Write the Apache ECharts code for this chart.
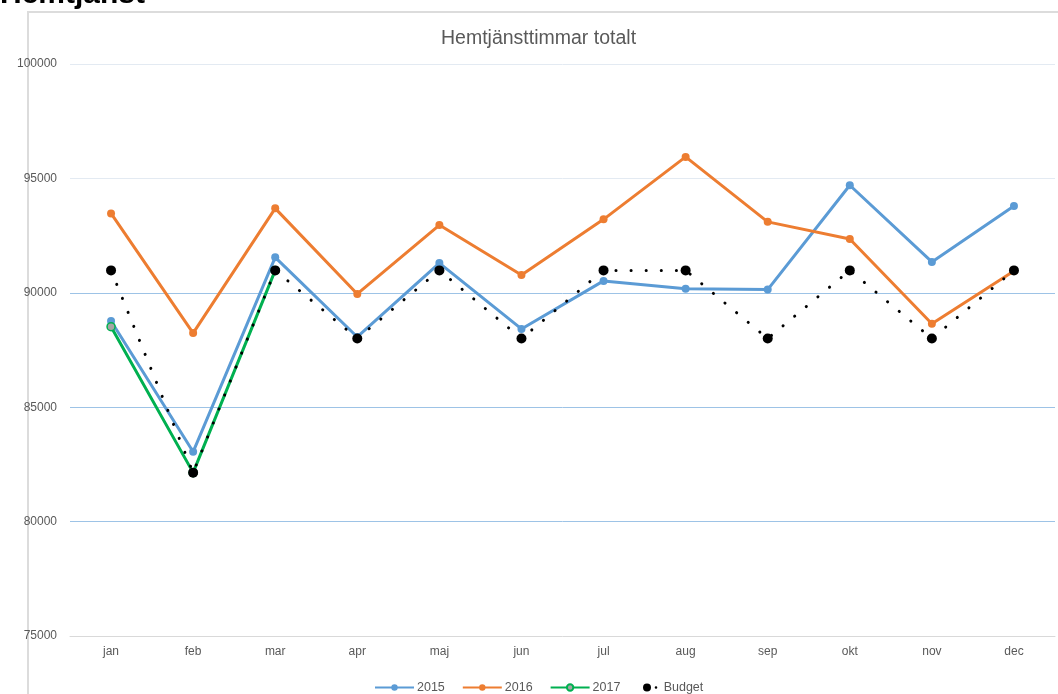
<!DOCTYPE html>
<html>
<head>
<meta charset="utf-8">
<script src="https://cdn.jsdelivr.net/npm/echarts@6/dist/echarts.min.js"></script>
<style>
html,body{margin:0;padding:0;background:#fff;}
#c{width:1058px;height:694px;}
</style>
</head>
<body>
<div id="c"></div>
<script>
const months = ['jan','feb','mar','apr','maj','jun','jul','aug','sep','okt','nov','dec'];
const s2015 = [88770, 83050, 91550, 88070, 91300, 88420, 90520, 90180, 90140, 94700, 91350, 93790];
const s2016 = [93470, 88240, 93690, 89950, 92960, 90780, 93210, 95940, 93100, 92350, 88650, 90950];
const s2017 = [88520, 82140, 90980];
const budget = [90980, 82140, 90980, 88000, 90980, 88000, 90980, 90980, 88000, 90980, 88000, 90980];
const yTicks = {min: 75000, max: 100000, step: 5000};
const blueGrid = [80000, 85000, 90000];
const greyGrid = [95000, 100000];

const FONT = 'Liberation Sans';
const chart = echarts.init(document.getElementById('c'));
chart.setOption({
  animation: false,
  backgroundColor: '#fff',
  textStyle: {fontFamily: FONT},
  graphic: [
    {type: 'rect', shape: {x: 28, y: 12, width: 1100, height: 800}, style: {fill: 'none', stroke: '#dcdcdc', lineWidth: 2}, silent: true, z: -10},
    {type: 'text', left: 0, top: -20, style: {text: 'Hemtjänst', font: 'bold 30px "Liberation Sans"', fill: '#000'}}
  ],
  title: {
    text: 'Hemtjänsttimmar totalt',
    left: 436, top: 24,
    textStyle: {fontFamily: FONT, fontSize: 19.5, fontWeight: 'normal', color: '#595959'}
  },
  grid: {left: 70, right: 3, top: 64, bottom: 58, containLabel: false},
  legend: [
    {
      data: ['2015', '2016', '2017'],
      left: 369, top: 676,
      itemWidth: 39, itemHeight: 8, itemGap: 17,
      textStyle: {fontFamily: FONT, fontSize: 12.5, color: '#595959', padding: [0, 0, 0, -2]}
    },
    {
      data: [{name: 'Budget', icon: 'path://M0,4A4,4,0,1,1,8,4A4,4,0,1,1,0,4ZM11.7,4A1.3,1.3,0,1,1,14.3,4A1.3,1.3,0,1,1,11.7,4Z'}],
      left: 638, top: 676,
      itemWidth: 15, itemHeight: 8,
      textStyle: {fontFamily: FONT, fontSize: 12.5, color: '#595959', padding: [0, 0, 0, 1]}
    }
  ],
  xAxis: {
    type: 'category',
    data: months,
    boundaryGap: true,
    axisLine: {lineStyle: {color: '#d9d9d9', width: 1}},
    axisTick: {show: false},
    axisLabel: {color: '#595959', fontSize: 12, margin: 10, fontFamily: FONT},
    splitLine: {show: false}
  },
  yAxis: {
    type: 'value',
    min: yTicks.min, max: yTicks.max, interval: yTicks.step,
    axisLine: {show: false},
    axisTick: {show: false},
    axisLabel: {color: '#595959', fontSize: 12, margin: 13, fontFamily: FONT, formatter: v => String(v)},
    splitLine: {show: false}
  },
  series: [
    {
      name: '2015', type: 'line', data: s2015,
      symbol: 'circle', symbolSize: 8,
      lineStyle: {color: '#5b9bd5', width: 3},
      itemStyle: {color: '#5b9bd5'},
      z: 2,
      markLine: {
        silent: true, symbol: 'none', label: {show: false}, z: 1,
        emphasis: {disabled: true},
        lineStyle: {color: '#9dc3e6', width: 1, type: 'solid', opacity: 1},
        data: blueGrid.map(v => ({yAxis: v}))
      }
    },
    {
      name: '2016', type: 'line', data: s2016,
      symbol: 'circle', symbolSize: 8,
      lineStyle: {color: '#ed7d31', width: 3},
      itemStyle: {color: '#ed7d31'},
      z: 3,
      markLine: {
        silent: true, symbol: 'none', label: {show: false}, z: 1,
        emphasis: {disabled: true},
        lineStyle: {color: '#e3eaf2', width: 1, type: 'solid', opacity: 1},
        data: greyGrid.map(v => ({yAxis: v}))
      }
    },
    {
      name: '2017', type: 'line', data: s2017,
      symbol: 'circle', symbolSize: 8,
      lineStyle: {color: '#00b050', width: 3},
      itemStyle: {color: '#a5a5a5', borderColor: '#00b050', borderWidth: 1.5},
      z: 4
    },
    {
      name: 'Budget', type: 'line', data: budget,
      symbol: 'circle', symbolSize: 10,
      lineStyle: {color: '#000', width: 3, type: [0.1, 15], cap: 'round'},
      itemStyle: {color: '#000'},
      z: 5
    }
  ]
});
</script>
</body>
</html>
